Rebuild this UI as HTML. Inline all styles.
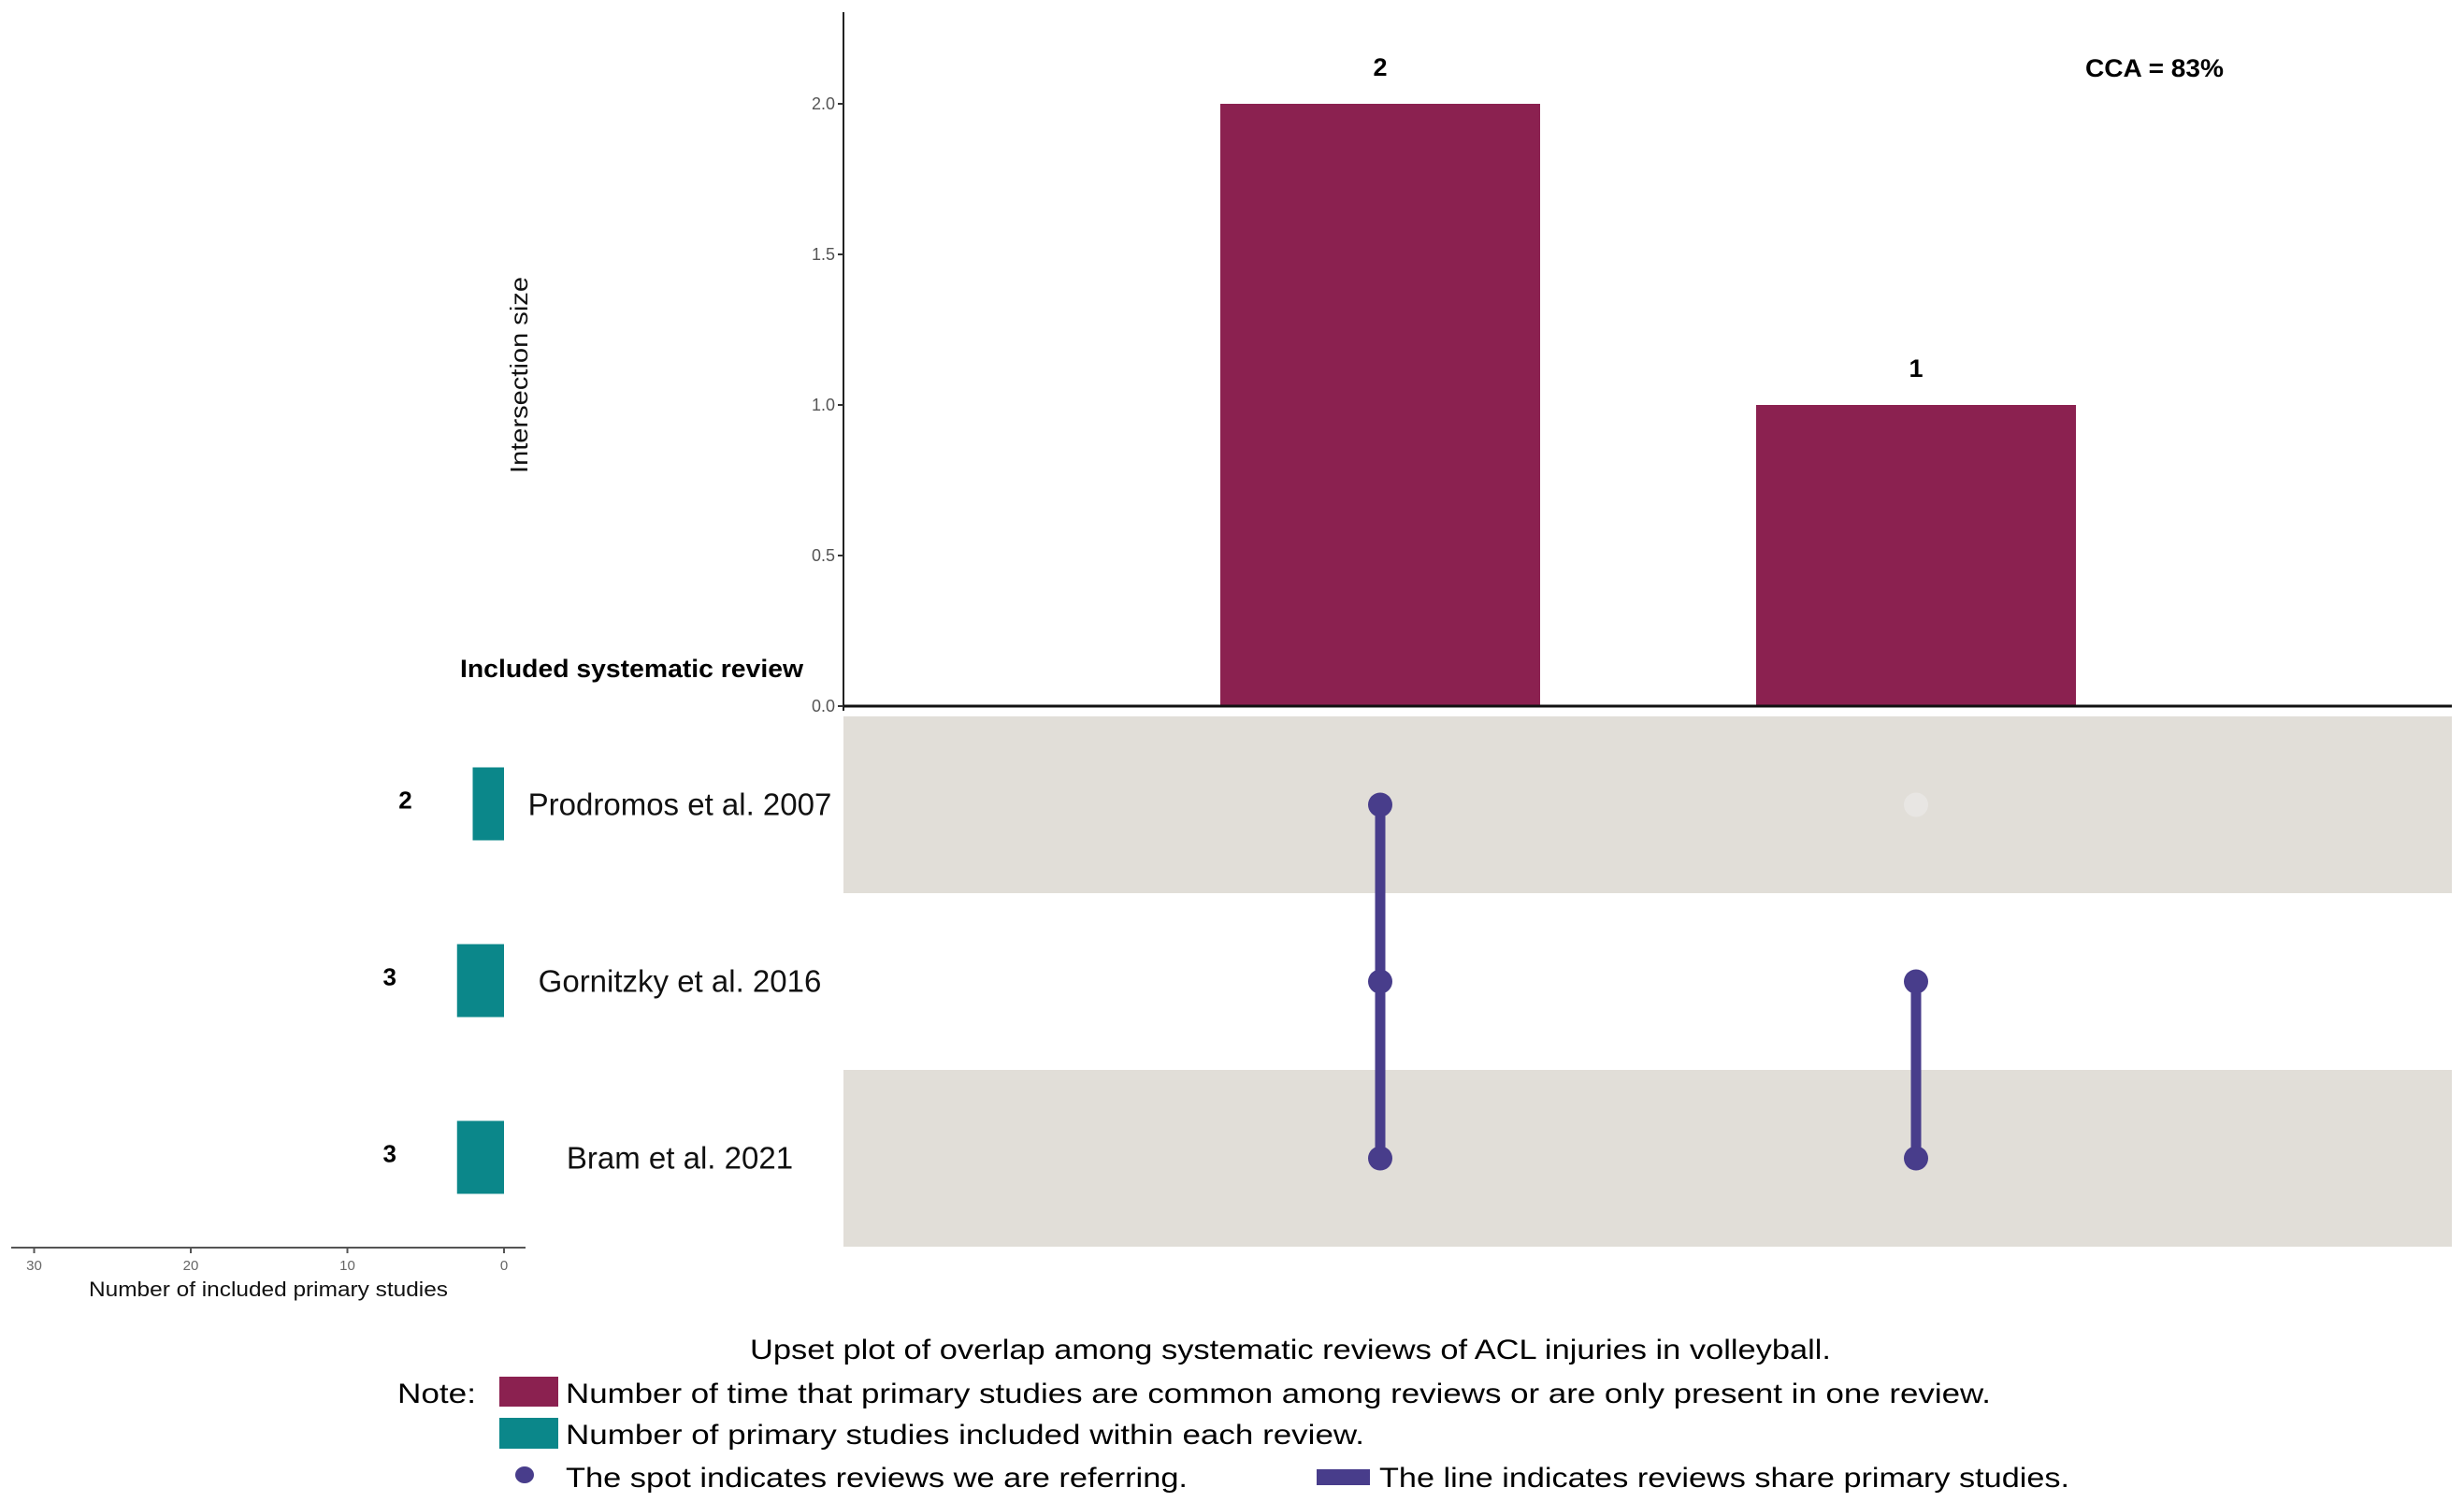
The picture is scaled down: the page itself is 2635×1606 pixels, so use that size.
<!DOCTYPE html>
<html><head><meta charset="utf-8"><style>
html,body{margin:0;padding:0;background:#fff;}
svg{display:block;}
text{font-family:"Liberation Sans",sans-serif;}
</style></head><body>
<svg id="chart" width="2635" height="1606" viewBox="0 0 2635 1606" xmlns="http://www.w3.org/2000/svg">
<g id="bands"></g>
<g id="bars"></g>
<g id="yaxis"></g>
<g id="matrix"></g>
<g id="sets"></g>
<text transform="translate(564,401) rotate(-90)" text-anchor="middle" font-size="26" fill="#111" textLength="210" lengthAdjust="spacingAndGlyphs">Intersection size</text>
<text x="2230" y="82" font-size="27" font-weight="bold" fill="#000" textLength="148" lengthAdjust="spacingAndGlyphs">CCA = 83%</text>
<text x="492" y="724" font-size="27" font-weight="bold" fill="#000" textLength="367" lengthAdjust="spacingAndGlyphs">Included systematic review</text>
<text x="287" y="1386" text-anchor="middle" font-size="22" fill="#111" textLength="384" lengthAdjust="spacingAndGlyphs">Number of included primary studies</text>
<text x="802" y="1453" font-size="30" fill="#000" textLength="1156" lengthAdjust="spacingAndGlyphs">Upset plot of overlap among systematic reviews of ACL injuries in volleyball.</text>
<text x="425" y="1500" font-size="30" fill="#000" textLength="84" lengthAdjust="spacingAndGlyphs">Note:</text>
<rect x="534" y="1472" width="63" height="32" fill="#8B2150"/>
<text x="605" y="1500" font-size="30" fill="#000" textLength="1524" lengthAdjust="spacingAndGlyphs">Number of time that primary studies are common among reviews or are only present in one review.</text>
<rect x="534" y="1516" width="63" height="33" fill="#0B878A"/>
<text x="605" y="1544" font-size="30" fill="#000" textLength="854" lengthAdjust="spacingAndGlyphs">Number of primary studies included within each review.</text>
<ellipse cx="561" cy="1577" rx="10" ry="9" fill="#483D8B"/>
<text x="605" y="1590" font-size="30" fill="#000" textLength="665" lengthAdjust="spacingAndGlyphs">The spot indicates reviews we are referring.</text>
<rect x="1408" y="1571" width="57" height="17" fill="#483D8B"/>
<text x="1475" y="1590" font-size="30" fill="#000" textLength="738" lengthAdjust="spacingAndGlyphs">The line indicates reviews share primary studies.</text>
</svg>
<script>
const intersections = ["Prodromos+Gornitzky+Bram", "Gornitzky+Bram"];
const intersectionSizes = [2, 1];
const yTicks = [0, 0.5, 1, 1.5, 2];
const yTickLabels = ["0.0", "0.5", "1.0", "1.5", "2.0"];
const setNames = ["Prodromos et al. 2007", "Gornitzky et al. 2016", "Bram et al. 2021"];
const setSizes = [2, 3, 3];
const setTicks = [30, 20, 10, 0];
const membership = [[1, 1, 1], [0, 1, 1]];

const NS = "http://www.w3.org/2000/svg";
function mk(tag, attrs, parent, txt) {
  const e = document.createElementNS(NS, tag);
  for (const k in attrs) e.setAttribute(k, attrs[k]);
  if (txt !== undefined) e.textContent = txt;
  parent.appendChild(e);
  return e;
}
const y0 = 755, yUnit = 322;
function yScale(v) { return y0 - v * yUnit; }
const colCenters0 = 1476, colStep = 573, barW = 342;
function xCol(i) { return colCenters0 + i * colStep; }
const rowTop = 766, rowH = 189;
function yRow(i) { return rowTop + rowH * i + rowH / 2; }
const setZero = 539, setUnit = 16.75;
function xSet(v) { return setZero - v * setUnit; }

const gb = document.getElementById('bands');
setNames.forEach((n, i) => {
  if (i % 2 === 0) {
    const r = mk('rect', {x: 902, y: rowTop + rowH * i, width: 1720, height: rowH, fill: '#E1DED8'}, gb);
    
    
  }
});

const gbar = document.getElementById('bars');
intersectionSizes.forEach((v, i) => {
  const r = mk('rect', {x: xCol(i) - barW / 2, y: yScale(v), width: barW, height: y0 - yScale(v), fill: '#8B2150'}, gbar);
  
  
  const t = mk('text', {x: xCol(i), y: yScale(v) - 30, 'text-anchor': 'middle', 'font-size': 27, 'font-weight': 'bold', fill: '#000'}, gbar, String(v));
  
  
});

const gy = document.getElementById('yaxis');
const axl = mk('line', {x1: 902, y1: 13, x2: 902, y2: 760, stroke: '#222', 'stroke-width': 2}, gy);


const bl = mk('line', {x1: 902, y1: y0, x2: 2622, y2: y0, stroke: '#111', 'stroke-width': 3}, gy);


yTicks.forEach((v, i) => {
  const tk = mk('line', {x1: 896, y1: yScale(v), x2: 902, y2: yScale(v), stroke: '#333', 'stroke-width': 2}, gy);
  
  
  const t = mk('text', {x: 893, y: yScale(v) + 6, 'text-anchor': 'end', 'font-size': 18, fill: '#555'}, gy, yTickLabels[i]);
  
  
});

const gm = document.getElementById('matrix');
membership.forEach((col, c) => {
  const rows = [];
  col.forEach((m, r) => { if (m) rows.push(r); });
  if (rows.length > 1) {
    const ln = mk('line', {x1: xCol(c), y1: yRow(Math.min(...rows)), x2: xCol(c), y2: yRow(Math.max(...rows)), stroke: '#483D8B', 'stroke-width': 11}, gm);
    
    
  }
  col.forEach((m, r) => {
    const d = mk('ellipse', {cx: xCol(c), cy: yRow(r), rx: 13, ry: 13, fill: m ? '#483D8B' : '#E8E6E3'}, gm);
    
    
  });
});

const gs = document.getElementById('sets');
setNames.forEach((n, i) => {
  const cy = yRow(i) - 1;
  const r = mk('rect', {x: xSet(setSizes[i]), y: cy - 39, width: setZero - xSet(setSizes[i]), height: 78, fill: '#0B878A'}, gs);
  
  
  const nt = mk('text', {x: xSet(setSizes[i]) - 72, y: cy + 5, 'text-anchor': 'middle', 'font-size': 26, 'font-weight': 'bold', fill: '#000'}, gs, String(setSizes[i]));
  
  
  const lt = mk('text', {x: 727, y: cy + 12, 'text-anchor': 'middle', 'font-size': 33, fill: '#111'}, gs, n);
  
  
});
const sa = mk('line', {x1: 12, y1: 1334, x2: 562, y2: 1334, stroke: '#555', 'stroke-width': 2}, gs);


setTicks.forEach(v => {
  const tk = mk('line', {x1: xSet(v), y1: 1334, x2: xSet(v), y2: 1340, stroke: '#555', 'stroke-width': 2}, gs);
  
  
  const t = mk('text', {x: xSet(v), y: 1358, 'text-anchor': 'middle', 'font-size': 15, fill: '#666'}, gs, String(v));
  
  
});
</script>
</body></html>
